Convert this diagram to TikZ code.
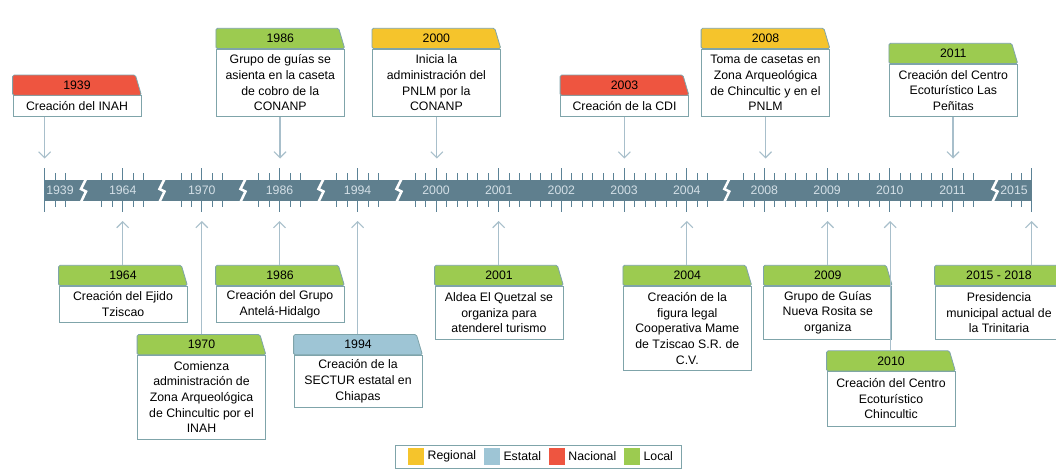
\documentclass[tikz,border=0pt]{standalone}
\usepackage{fontspec}
\setmainfont{Liberation Sans}
\usepackage{tikz}
\usetikzlibrary{arrows.meta, positioning}
\definecolor{regional}{HTML}{F5C42C}
\definecolor{estatal}{HTML}{9EC5D5}
\definecolor{nacional}{HTML}{EE5540}
\definecolor{local}{HTML}{9CCB50}
\definecolor{colborde}{HTML}{7FA4AA}
\definecolor{colbarra}{HTML}{5F7F8E}
\definecolor{colflecha}{HTML}{A8BFCB}
\definecolor{colmarca}{HTML}{5B8296}
\definecolor{colrotulo}{HTML}{D3DFE6}
\newcommand{\letra}{\fontsize{12.3}{15.6}\selectfont}
\tikzstyle{cuerpo} = [draw=colborde, fill=white, line width=0.8pt, minimum width=128pt, inner sep=0pt, align=center, font=\letra]
\tikzstyle{marco} = [draw=colborde, line width=0.8pt, rounded corners=1.5pt]
\tikzstyle{cabecera} = [minimum height=20pt, inner sep=0pt, font=\letra]
\tikzstyle{flecha} = [draw=colflecha, line width=1.1pt, -{Straight Barb[length=6pt,width=12pt]}]
\tikzstyle{mayor} = [draw=colmarca, line width=0.9pt]
\tikzstyle{menor} = [draw=colmarca, line width=0.8pt]
\tikzstyle{corte} = [draw=white, line width=2.5pt]
\tikzstyle{rotulo} = [text=colrotulo, inner sep=0pt, font=\letra]
\tikzstyle{cuadro} = [minimum size=16.5pt, inner sep=0pt]
\tikzstyle{etiqueta} = [inner sep=0pt, font=\letra]
% #1 nombre, #2 x, #3 y de la cabecera, #4 alto del cuerpo, #5 color, #6 anio, #7 texto
\newcommand{\evento}[7]{%
	\node[cuerpo, minimum height=#4, anchor=north] (#1) at (#2,#3+20.3) {#7};
	\draw[marco, fill=#5] (#1.north west) -- ([yshift=20.3pt]#1.north west) -- ([xshift=-6pt,yshift=20.3pt]#1.north east) -- (#1.north east) -- cycle;
	\node[cabecera] (#1-anio) at ([yshift=10.15pt]#1.north) {#6};
}

\begin{document}
\begin{tikzpicture}[x=1pt, y=-1pt]
	\useasboundingbox (0,0) rectangle (1056,469);
	\clip (0,0) rectangle (1056,469);
	\fill[white] (0,0) rectangle (1056,469);

	% marcas de la linea de tiempo
	\draw[mayor] (44.6,168) -- (44.6,212);
	\draw[mayor] (1031.5,168) -- (1031.5,212);
	\foreach \x in {55,65,1011,1021}
		\draw[menor] (\x,173) -- (\x,207);
	\foreach \c in {122.7,201.8,279.5,357.6}{
		\foreach \d in {-20.9,-10.45,10.45,20.9}{
			\pgfmathsetmacro\xx{\c+\d}
			\draw[menor] (\xx,173) -- (\xx,207);
		}
		\draw[mayor] (\c,168) -- (\c,212);
	}
	\foreach \k in {-2,...,26}{
		\pgfmathsetmacro\xx{436+\k*10.45}
		\draw[menor] (\xx,173) -- (\xx,207);
	}
	\foreach \k in {-2,...,20}{
		\pgfmathsetmacro\xx{764.4+\k*10.45}
		\draw[menor] (\xx,173) -- (\xx,207);
	}
	\foreach \c in {436,498.7,561.4,624.1,686.8,764.4,827.1,889.8,952.5}
		\draw[mayor] (\c,168) -- (\c,212);

	% barra
	\fill[colbarra] (44.6,180) rectangle (1031.5,201);
	\foreach \x in {83.5,162,243,321,399,726.8,995}
		\draw[corte] (\x+3,178) -- (\x-2.5,189) -- (\x+2.5,191.5) -- (\x-3,203);
	\foreach \anio/\x in {1939/60,1964/122.7,1970/201.8,1986/279.5,1994/357.6,2000/436,2001/498.7,2002/561.4,2003/624.1,2004/686.8,2008/764.4,2009/827.1,2010/889.8,2011/952.5,2015/1014}
		\node[rotulo] (r\anio) at (\x,190.5) {\anio};

	% eventos de arriba
	\evento{e1939}{77}{75}{20.7}{nacional}{1939}{Creación del INAH}
	\evento{e1986a}{280.3}{28.3}{67.7}{local}{1986}{Grupo de guías se\\asienta en la caseta\\de cobro de la\\CONANP}
	\evento{e2000}{436.4}{28.3}{67.7}{regional}{2000}{Inicia la\\administración del\\PNLM por la\\CONANP}
	\evento{e2003}{624.5}{75}{20.7}{nacional}{2003}{Creación de la CDI}
	\evento{e2008}{765.5}{28.3}{67.7}{regional}{2008}{Toma de casetas en\\Zona Arqueológica\\de Chincultic y en el\\PNLM}
	\evento{e2011}{953.3}{43.3}{52.7}{local}{2011}{Creación del Centro\\Ecoturístico Las\\Peñitas}

	% eventos de abajo
	\evento{e1964}{123}{265.3}{36.4}{local}{1964}{Creación del Ejido\\Tziscao}
	\evento{e1986b}{280}{265.3}{36.4}{local}{1986}{Creación del Grupo\\Antelá-Hidalgo}
	\evento{e1970}{201.5}{334.5}{83.8}{local}{1970}{Comienza\\administración de\\Zona Arqueológica\\de Chincultic por el\\INAH}
	\evento{e1994}{358}{334.5}{52.2}{estatal}{1994}{Creación de la\\SECTUR estatal en\\Chiapas}
	\evento{e2001}{499}{265.3}{53.3}{local}{2001}{Aldea El Quetzal se\\organiza para\\atenderel turismo}
	\evento{e2004}{687.3}{265.3}{84.8}{local}{2004}{Creación de la\\figura legal\\Cooperativa Mame\\de Tziscao S.R. de\\C.V.}
	\evento{e2009}{827.8}{265.3}{53.3}{local}{2009}{Grupo de Guías\\Nueva Rosita se\\organiza}
	\evento{e2010}{891}{350.8}{54.4}{local}{2010}{Creación del Centro\\Ecoturístico\\Chincultic}
	\evento{e2015}{999}{265.3}{53.3}{local}{2015 - 2018}{Presidencia\\municipal actual de\\la Trinitaria}

	% puntas sobre la barra
	\coordinate (p1939) at (44.6,158.5);
	\coordinate (p1986a) at (280,158.5);
	\coordinate (p2000) at (436.8,158.5);
	\coordinate (p2003) at (624.3,158.5);
	\coordinate (p2008) at (765.5,158.5);
	\coordinate (p2011) at (953,158.5);
	\coordinate (p1964) at (122.7,221);
	\coordinate (p1986b) at (279.5,221);
	\coordinate (p1970) at (201.8,221);
	\coordinate (p1994) at (357.6,221);
	\coordinate (p2001) at (498.7,221);
	\coordinate (p2004) at (686.8,221);
	\coordinate (p2009) at (827.5,221);
	\coordinate (p2010) at (890.2,221);
	\coordinate (p2015) at (1031.5,221);

	\draw[flecha] (e1939.south -| p1939) -- (p1939);
	\draw[flecha] (e1986a.south -| p1986a) -- (p1986a);
	\draw[flecha] (e2000.south -| p2000) -- (p2000);
	\draw[flecha] (e2003.south -| p2003) -- (p2003);
	\draw[flecha] (e2008.south -| p2008) -- (p2008);
	\draw[flecha] (e2011.south -| p2011) -- (p2011);
	\draw[flecha] (e1964-anio.north -| p1964) -- (p1964);
	\draw[flecha] (e1986b-anio.north -| p1986b) -- (p1986b);
	\draw[flecha] (e1970-anio.north -| p1970) -- (p1970);
	\draw[flecha] (e1994-anio.north -| p1994) -- (p1994);
	\draw[flecha] (e2001-anio.north -| p2001) -- (p2001);
	\draw[flecha] (e2004-anio.north -| p2004) -- (p2004);
	\draw[flecha] (e2009-anio.north -| p2009) -- (p2009);
	\draw[flecha] (e2010-anio.north -| p2010) -- (p2010);
	\draw[flecha] (e2015-anio.north -| p2015) -- (p2015);

	% leyenda
	\node[draw=colborde, line width=0.8pt, minimum width=286pt, minimum height=23pt, inner sep=0pt] (leyenda) at (538.6,456.5) {};
	\node[cuadro, fill=regional] (cRegional) at (416,456.5) {};
	\node[etiqueta, right=3pt of cRegional] (tRegional) {Regional};
	\node[cuadro, fill=estatal, right=7pt of tRegional] (cEstatal) {};
	\node[etiqueta, right=3pt of cEstatal] (tEstatal) {Estatal};
	\node[cuadro, fill=nacional, right=7pt of tEstatal] (cNacional) {};
	\node[etiqueta, right=3pt of cNacional] (tNacional) {Nacional};
	\node[cuadro, fill=local, right=7pt of tNacional] (cLocal) {};
	\node[etiqueta, right=3pt of cLocal] (tLocal) {Local};
\end{tikzpicture}
\end{document}
